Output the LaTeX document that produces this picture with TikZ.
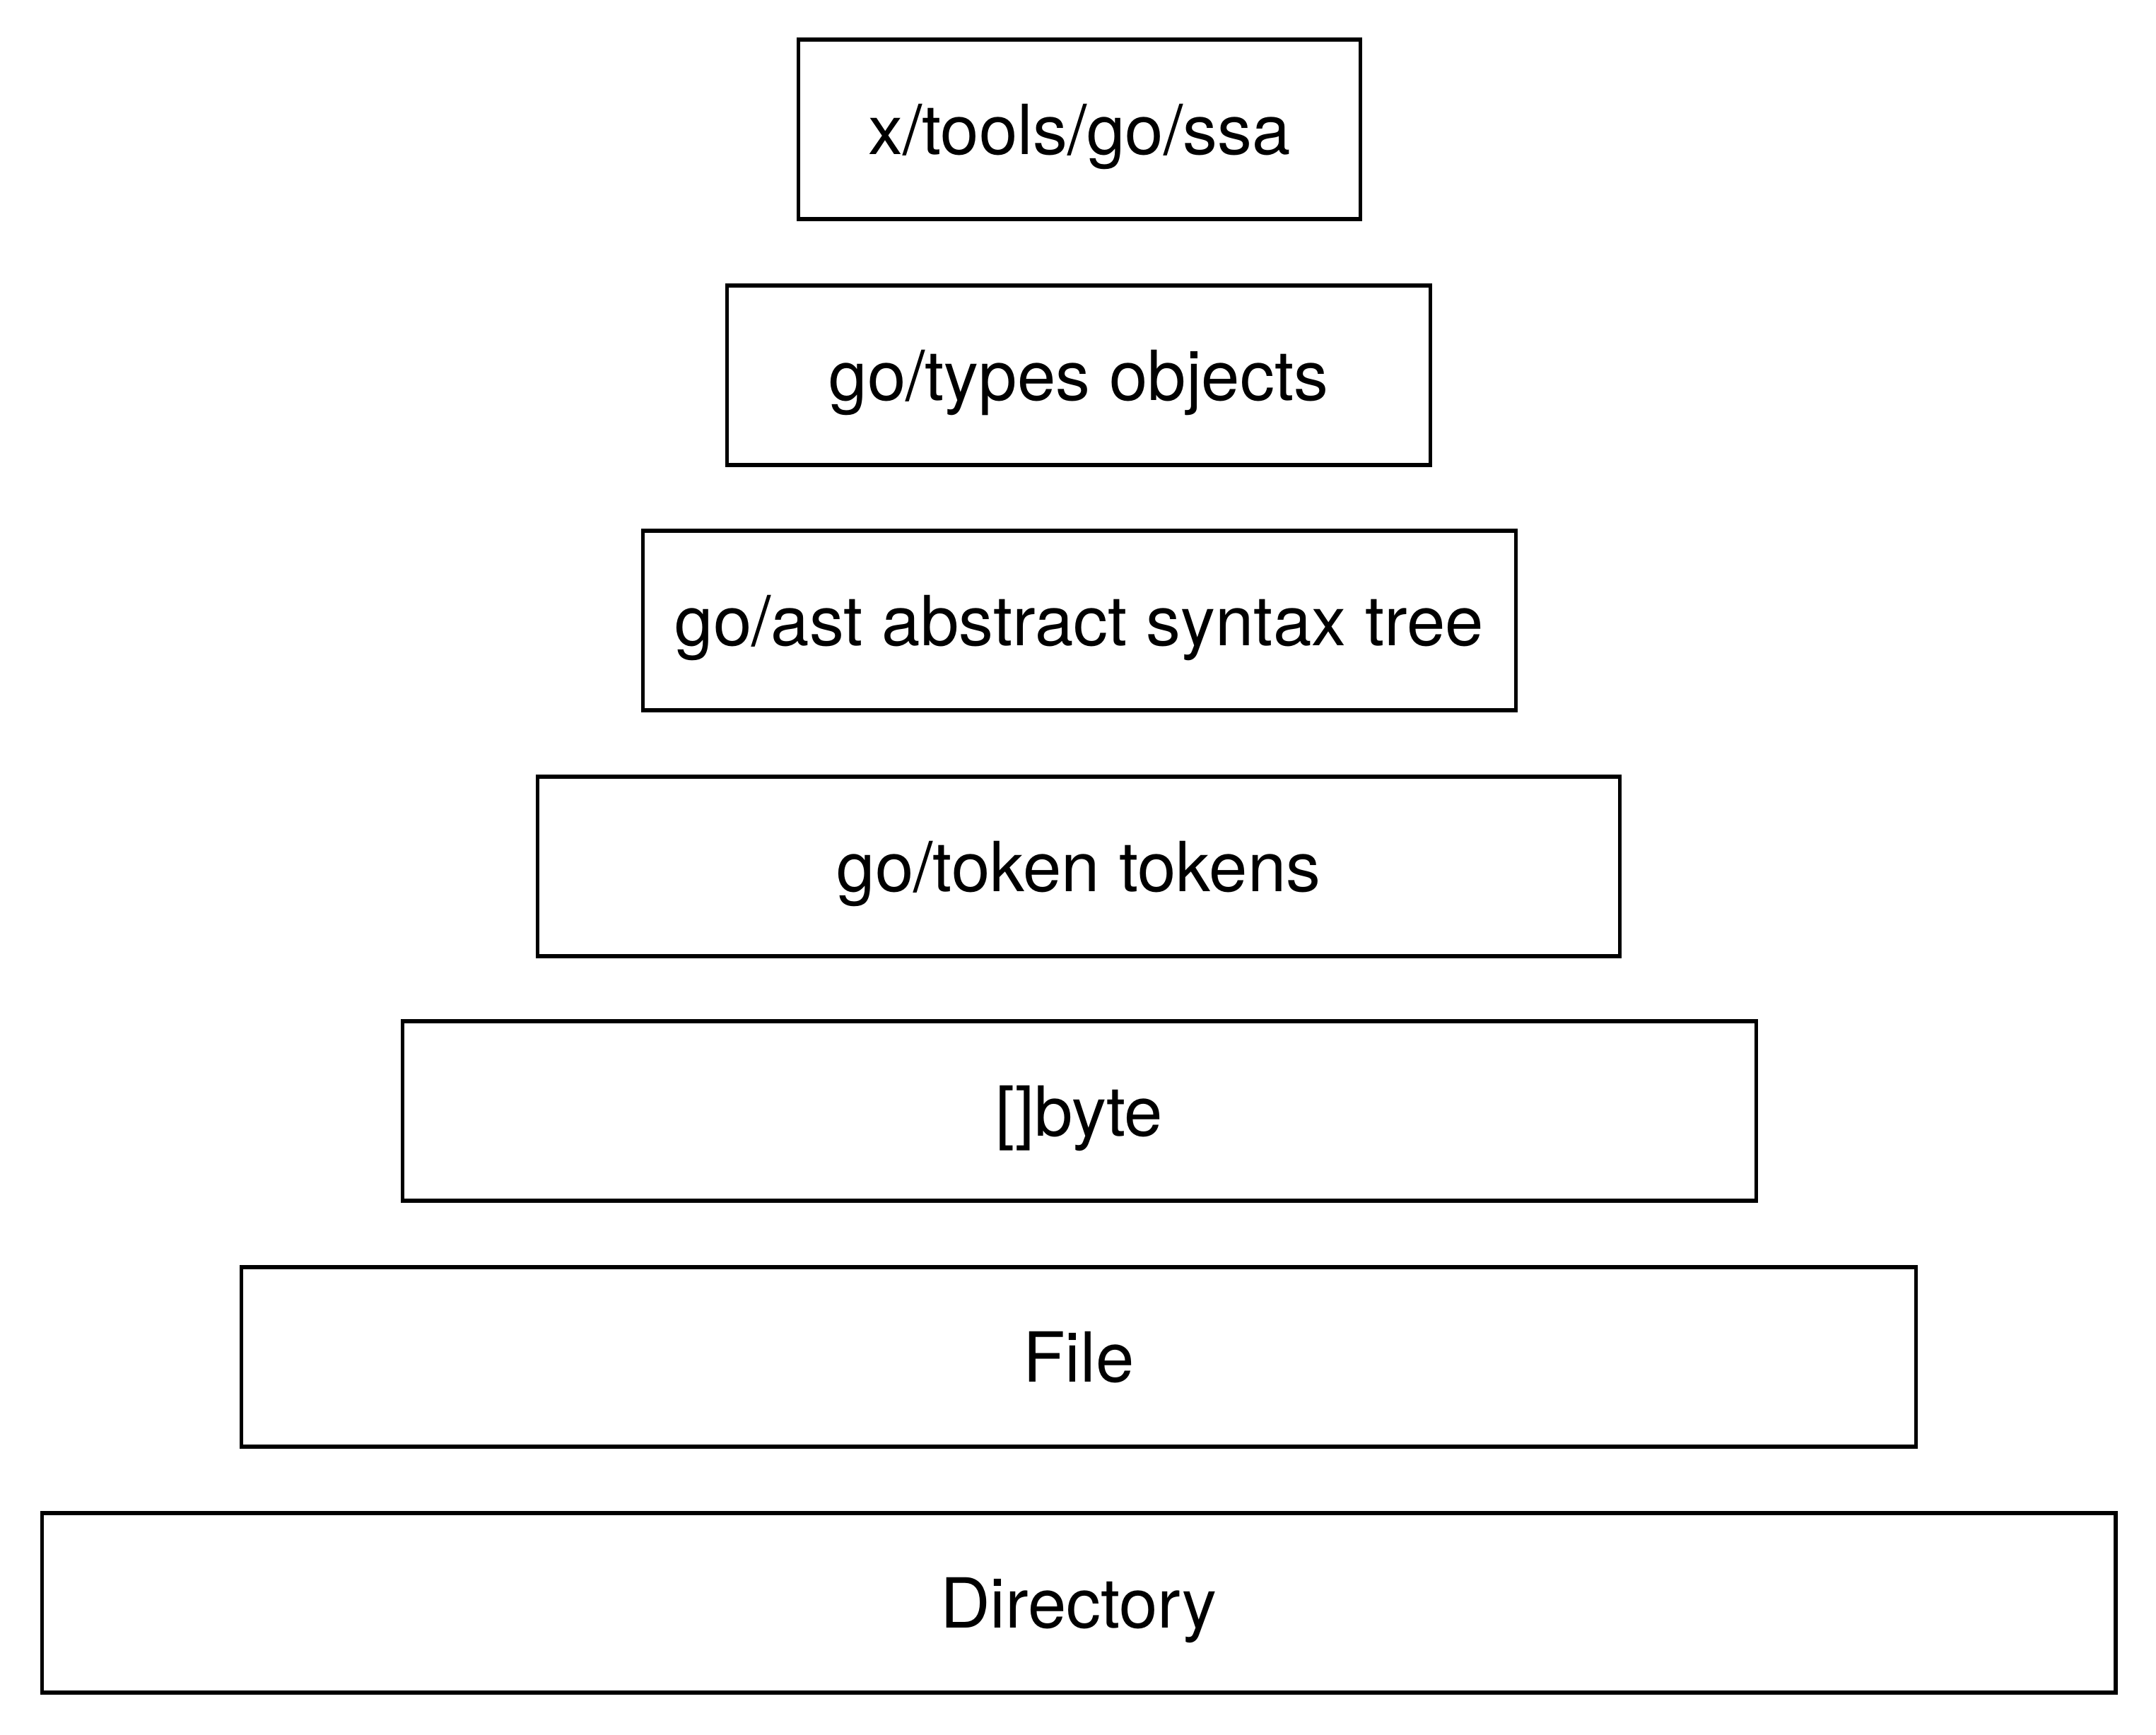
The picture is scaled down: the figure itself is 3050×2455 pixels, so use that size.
\documentclass[tikz,border=0pt]{standalone}
\usepackage{fontspec}
\setmainfont{TeX Gyre Heros}
\begin{document}
\begin{tikzpicture}[x=0.01cm,y=-0.01cm,
  layer/.style={draw=black, line width=1.5pt, rectangle, minimum height=2.54cm,
    inner sep=0pt, text height=0.70cm, text depth=0cm,
    font=\fontsize{27.8}{33}\selectfont}]
\useasboundingbox (0,0) rectangle (3050,2455);
\node[layer, minimum width=7.94cm]  (ssa)   at (1527,183)  {x/tools/go/ssa};
\node[layer, minimum width=9.94cm]  (types) at (1526,531)  {go/types objects};
\node[layer, minimum width=12.34cm] (ast)   at (1527,878)  {go/ast abstract syntax tree};
\node[layer, minimum width=15.30cm] (token) at (1526,1226) {go/token tokens};
\node[layer, minimum width=19.14cm] (bytes) at (1527,1572) {[]byte};
\node[layer, minimum width=23.68cm] (file)  at (1526,1920) {File};
\node[layer, minimum width=29.32cm] (dir)   at (1526,2268) {Directory};
\end{tikzpicture}
\end{document}
